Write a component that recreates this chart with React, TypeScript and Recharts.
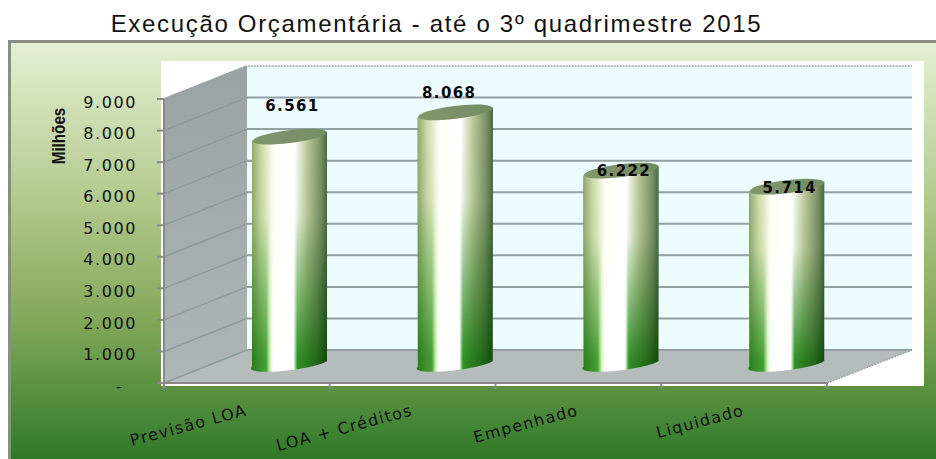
import { Bar, BarChart, CartesianGrid, LabelList, XAxis, YAxis } from "recharts";

const categories = ["Previsão LOA", "LOA + Créditos", "Empenhado", "Liquidado"];
// height of each cylinder as drawn; the first one stands taller than its printed value
const barHeights = [7300, 8068, 6222, 5714];
const printedValues = ["6.561", "8.068", "6.222", "5.714"];
const yTicks = [0, 1000, 2000, 3000, 4000, 5000, 6000, 7000, 8000, 9000];
const backTicks = [0, 1000, 2000, 3000, 4000, 5000, 6000, 7000, 8000];

const chartData = categories.map((name, i) => ({
  name,
  height: barHeights[i],
  printed: printedValues[i],
}));

const WIDTH = 936;
const HEIGHT = 459;
const PLOT_LEFT = 164;
const PLOT_RIGHT = 827;
const PLOT_TOP = 99;
const PLOT_BOTTOM = 383;
const DEPTH_X = 84;
const DEPTH_Y = 33;
const Y_MAX = 9000;
const BACK_SHIFT = (DEPTH_Y / (PLOT_BOTTOM - PLOT_TOP)) * Y_MAX;
const BAND = (PLOT_RIGHT - PLOT_LEFT) / categories.length;

// how far each printed value sits from the top of its cylinder
const labelNudges = [
  { dx: 3, dy: -31 },
  { dx: -6, dy: -19 },
  { dx: 3, dy: 0 },
  { dx: 3, dy: 1 },
];

const formatTick = (value: number) =>
  value === 0 ? "-\u00A0\u00A0" : `${value / 1000}.000`;

function Cylinder(props: any) {
  const { x, y, width, height } = props;
  const left = x + 43;
  const right = left + width;
  const cx = left + width / 2;
  const top = y - 16;
  const bottom = y + height - 17;
  const rx = width / 2;
  const tilt = 5;
  const body = `M${left},${top + tilt} L${right},${top - tilt} L${right},${bottom - tilt}
    A${rx},6 -7 0 1 ${left},${bottom + tilt - 4} Z`;
  return (
    <g>
      <path d={body} fill="url(#cylBody)" />
      <path d={body} fill="url(#cylTop)" mask="url(#cylMask)" />
      <ellipse
        cx={cx}
        cy={top}
        rx={rx}
        ry={6.5}
        fill="url(#cylCap)"
        transform={`rotate(-7 ${cx} ${top})`}
      />
    </g>
  );
}

function PrintedValue(props: any) {
  const { x, y, width, value, index } = props;
  const nudge = labelNudges[index];
  return (
    <text
      x={x + 43 + width / 2 + nudge.dx}
      y={y - 16 + nudge.dy}
      textAnchor="middle"
      dominantBaseline="central"
      fontFamily="DejaVu Sans"
      fontWeight="bold"
      fontSize={15}
      letterSpacing={1.4}
      fill="#0a0a0a"
    >
      {value}
    </text>
  );
}

// the reference marks the band edges, not the band centres
function CategoryTick(props: any) {
  const { x, y, payload, index } = props;
  const axisY = PLOT_BOTTOM;
  return (
    <g>
      <line x1={x - BAND / 2} y1={axisY} x2={x - BAND / 2} y2={axisY + 6} stroke="#8a8a8a" strokeWidth={2} />
      {index === categories.length - 1 && (
        <line x1={x + BAND / 2} y1={axisY} x2={x + BAND / 2} y2={axisY + 6} stroke="#8a8a8a" strokeWidth={2} />
      )}
      <text
        x={0}
        y={0}
        transform={`translate(${x + 1} ${y + 24}) rotate(-15)`}
        textAnchor="end"
        fontFamily="DejaVu Sans"
        fontSize={16}
        letterSpacing={1.35}
        fill="#111111"
      >
        {payload.value}
      </text>
    </g>
  );
}

function Room() {
  const backLeft = PLOT_LEFT + DEPTH_X - 1;
  const backRight = PLOT_RIGHT + DEPTH_X + 1;
  const backTop = PLOT_TOP - DEPTH_Y;
  const backBottom = PLOT_BOTTOM - DEPTH_Y;
  return (
    <svg
      width={WIDTH}
      height={HEIGHT}
      style={{ position: "absolute", left: 0, top: 0 }}
    >
      <defs>
        <linearGradient id="frameFill" x1="0" y1="0" x2="0" y2="1">
          <stop offset="0" stopColor="#e5f0d3" />
          <stop offset="0.35" stopColor="#b2c98c" />
          <stop offset="0.62" stopColor="#7fa656" />
          <stop offset="0.85" stopColor="#3f8333" />
          <stop offset="1" stopColor="#15660f" />
        </linearGradient>
        <linearGradient id="sideFill" x1="0" y1="0" x2="0" y2="1">
          <stop offset="0" stopColor="#9aa3a3" />
          <stop offset="1" stopColor="#aeb6b6" />
        </linearGradient>
      </defs>
      <rect x={9.5} y={41.5} width={WIDTH} height={HEIGHT} fill="url(#frameFill)" stroke="#8a8f86" strokeWidth={3} />
      <rect x={161} y={61} width={763} height={325} fill="#ffffff" />
      <rect x={backLeft} y={backTop} width={backRight - backLeft} height={backBottom - backTop} fill="#ecfcff" />
      <polygon
        points={`${PLOT_LEFT},${PLOT_TOP} ${backLeft},${backTop} ${backLeft},${backBottom} ${PLOT_LEFT},${PLOT_BOTTOM}`}
        fill="url(#sideFill)"
      />
      <polygon
        points={`${backLeft},${backBottom} ${backRight},${backBottom} ${PLOT_RIGHT},${PLOT_BOTTOM} ${PLOT_LEFT},${PLOT_BOTTOM}`}
        fill="#b4bcbc"
      />
      {yTicks.map((tick) => {
        const front = PLOT_BOTTOM - (tick / Y_MAX) * (PLOT_BOTTOM - PLOT_TOP);
        return (
          <line
            key={tick}
            x1={PLOT_LEFT}
            y1={front}
            x2={backLeft}
            y2={front - DEPTH_Y}
            stroke="#8c9a9c"
            strokeWidth={1.5}
          />
        );
      })}
      <polyline
        points={`${PLOT_LEFT},${PLOT_TOP} ${backLeft},${backTop} ${backRight},${backTop}`}
        fill="none"
        stroke="#a4a8a8"
        strokeWidth={1.5}
        strokeDasharray="2 1"
      />
      <line
        x1={PLOT_RIGHT}
        y1={PLOT_BOTTOM}
        x2={backRight}
        y2={backBottom}
        stroke="#a4a8a8"
        strokeWidth={1.5}
        strokeDasharray="2 1"
      />
      <text
        x={436.5}
        y={32}
        textAnchor="middle"
        fontFamily="Liberation Sans"
        fontSize={24}
        letterSpacing={1.68}
        fill="#111111"
      >
        Execução Orçamentária - até o 3º quadrimestre 2015
      </text>
      <text
        x={0}
        y={0}
        transform="translate(65 136) rotate(-90) scale(0.8 1)"
        textAnchor="middle"
        fontFamily="Liberation Sans"
        fontWeight="bold"
        fontSize={19}
        fill="#111111"
      >
        Milhões
      </text>
    </svg>
  );
}

export default function App() {
  return (
    <div style={{ position: "absolute", left: 0, top: 0, width: WIDTH, height: HEIGHT, overflow: "hidden" }}>
      <Room />
      <div style={{ position: "absolute", left: 0, top: 0 }}>
        <BarChart
          width={WIDTH}
          height={HEIGHT}
          data={chartData}
          margin={{ top: PLOT_TOP, right: WIDTH - PLOT_RIGHT, bottom: 0, left: 0 }}
        >
          <defs>
            <linearGradient id="cylBody" x1="0" y1="0" x2="1" y2="0">
              <stop offset="0" stopColor="#2a7a1c" />
              <stop offset="0.2" stopColor="#45a034" />
              <stop offset="0.25" stopColor="#c8f4a8" />
              <stop offset="0.29" stopColor="#ffffff" />
              <stop offset="0.56" stopColor="#ffffff" />
              <stop offset="0.61" stopColor="#2f8f24" />
              <stop offset="0.85" stopColor="#256b1a" />
              <stop offset="1" stopColor="#104c0a" />
            </linearGradient>
            <linearGradient id="cylTop" x1="0" y1="0" x2="1" y2="0">
              <stop offset="0" stopColor="#8fa46c" />
              <stop offset="0.14" stopColor="#cfdcaa" />
              <stop offset="0.3" stopColor="#fffff6" />
              <stop offset="0.58" stopColor="#ffffff" />
              <stop offset="0.74" stopColor="#bcc89a" />
              <stop offset="0.92" stopColor="#7c8f66" />
              <stop offset="1" stopColor="#4a6a40" />
            </linearGradient>
            <linearGradient id="cylCap" x1="0" y1="0" x2="1" y2="0">
              <stop offset="0" stopColor="#7f9a68" />
              <stop offset="0.5" stopColor="#7d8f6c" />
              <stop offset="1" stopColor="#6f9060" />
            </linearGradient>
            <linearGradient id="cylFade" x1="0" y1="0" x2="0" y2="1">
              <stop offset="0" stopColor="#ffffff" />
              <stop offset="0.35" stopColor="#f0f0f0" />
              <stop offset="0.68" stopColor="#707070" />
              <stop offset="0.95" stopColor="#000000" />
            </linearGradient>
            <mask id="cylMask" maskContentUnits="objectBoundingBox" x="0" y="0" width="1" height="1">
              <rect x={0} y={0} width={1} height={1} fill="url(#cylFade)" />
            </mask>
          </defs>
          <CartesianGrid
            yAxisId="back"
            x={PLOT_LEFT + DEPTH_X - 1}
            width={PLOT_RIGHT - PLOT_LEFT + 2}
            vertical={false}
            stroke="#93a1a3"
            strokeWidth={2}
            horizontalValues={backTicks}
          />
          <XAxis
            dataKey="name"
            height={76}
            interval={0}
            stroke="#8a8a8a"
            strokeWidth={2}
            tickLine={false}
            tick={CategoryTick}
          />
          <YAxis
            width={PLOT_LEFT}
            domain={[0, Y_MAX]}
            ticks={yTicks}
            interval={0}
            tickFormatter={formatTick}
            stroke="#8a8a8a"
            strokeWidth={2}
            tickSize={7}
            tickMargin={20}
            tick={{ fontFamily: "DejaVu Sans", fontSize: 16, letterSpacing: 1.6, fill: "#111111", dy: 3 }}
          />
          <YAxis
            yAxisId="back"
            hide
            domain={[-BACK_SHIFT, Y_MAX - BACK_SHIFT]}
            ticks={backTicks}
            allowDataOverflow
          />
          <Bar
            dataKey="height"
            barSize={75}
            isAnimationActive={false}
            shape={Cylinder}
          >
            <LabelList dataKey="printed" content={PrintedValue} />
          </Bar>
        </BarChart>
      </div>
    </div>
  );
}
